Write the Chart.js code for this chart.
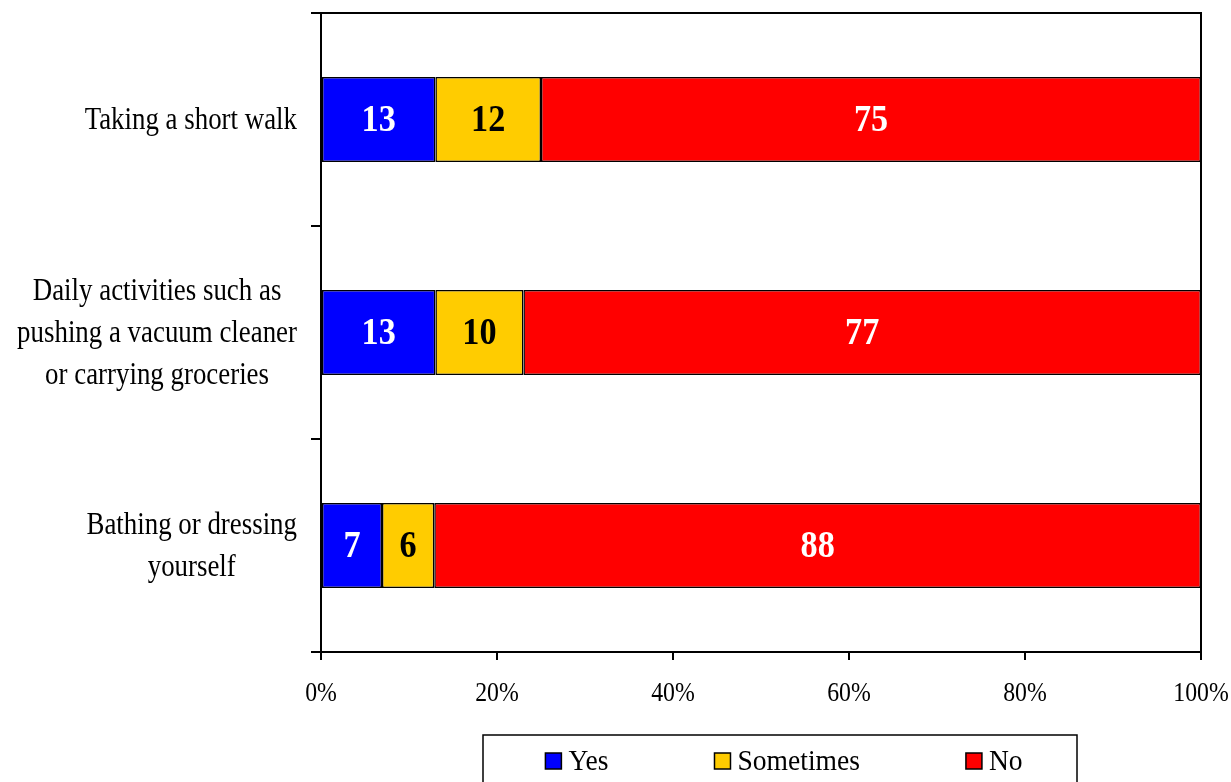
<!DOCTYPE html>
<html>
<head>
<meta charset="utf-8">
<script src="https://cdn.jsdelivr.net/npm/chart.js@4/dist/chart.umd.min.js"></script>
<style>
  html, body { margin: 0; padding: 0; background: #fff; overflow: hidden; }
  #wrap { width: 1231px; height: 782px; position: relative; }
</style>
</head>
<body>
<div id="wrap"><canvas id="chart"></canvas></div>
<script>
// categories (top to bottom)
const categories = [
    ['Taking a short walk'],
    ['Daily activities such as', 'pushing a vacuum cleaner', 'or carrying groceries'],
    ['Bathing or dressing', 'yourself']
];
const seriesNames = ['Yes', 'Sometimes', 'No'];
const yesValues = [13, 13, 7];
const sometimesValues = [12, 10, 6];
const noValues = [75, 77, 88];
const seriesColors = ['#0000FF', '#FFCC00', '#FF0000'];
const labelColors = ['#FFFFFF', '#000000', '#FFFFFF'];
const xTicks = [0, 20, 40, 60, 80, 100];

const FONT = '"Liberation Serif", "Times New Roman", serif';
const raw = [yesValues, sometimesValues, noValues];

// 100% stacked: normalize each category by its total
const totals = categories.map((c, i) => raw.reduce((s, arr) => s + arr[i], 0));
const datasets = raw.map((arr, k) => ({
    label: seriesNames[k],
    data: arr.map((v, i) => v / totals[i] * 100),
    rawValues: arr,
    backgroundColor: seriesColors[k],
    borderColor: '#000000',
    borderWidth: 1.5,
    borderSkipped: false,
    barPercentage: 0.4,
    categoryPercentage: 1.0
}));

// draw text squeezed horizontally (the original text is a bit condensed)
function squeezed(ctx, text, x, y, sx) {
    ctx.save();
    ctx.translate(x, y);
    ctx.scale(sx, 1);
    ctx.fillText(text, 0, 0);
    ctx.restore();
}

// plot-area frame (top and right sides)
const framePlugin = {
    id: 'frame',
    afterDraw(chart) {
        const { ctx, chartArea: a } = chart;
        ctx.save();
        ctx.strokeStyle = '#000';
        ctx.lineWidth = 2;
        ctx.beginPath();
        ctx.moveTo(a.left - 10, a.top);
        ctx.lineTo(a.right, a.top);
        ctx.lineTo(a.right, a.bottom);
        ctx.stroke();
        ctx.restore();
    }
};

// numbers inside the bars
const valueLabels = {
    id: 'valueLabels',
    afterDatasetsDraw(chart) {
        const ctx = chart.ctx;
        ctx.save();
        ctx.font = 'bold 38px ' + FONT;
        ctx.textAlign = 'center';
        ctx.textBaseline = 'middle';
        chart.data.datasets.forEach((ds, k) => {
            chart.getDatasetMeta(k).data.forEach((bar, i) => {
                ctx.fillStyle = labelColors[k];
                squeezed(ctx, String(ds.rawValues[i]), (bar.x + bar.base) / 2, bar.y + 2, 0.9);
            });
        });
        ctx.restore();
    }
};

// axis labels: category lines centred on each other with the block right-aligned,
// percent labels under the x ticks
const axisLabels = {
    id: 'axisLabels',
    afterDraw(chart) {
        const ctx = chart.ctx;
        const y = chart.scales.y;
        const x = chart.scales.x;
        const lineH = 42;
        const rightEdge = 297;
        const sx = 0.84;
        ctx.save();
        ctx.fillStyle = '#000';
        ctx.textAlign = 'center';
        ctx.textBaseline = 'middle';
        ctx.font = '32px ' + FONT;
        categories.forEach((lines, i) => {
            const w = Math.max(...lines.map(l => ctx.measureText(l).width)) * sx;
            const cx = rightEdge - w / 2;
            const cy = y.getPixelForValue(i);
            const start = cy - (lines.length - 1) * lineH / 2;
            lines.forEach((l, j) => squeezed(ctx, l, cx, start + j * lineH + 1, sx));
        });
        ctx.font = '28px ' + FONT;
        xTicks.forEach(v => {
            squeezed(ctx, v + '%', x.getPixelForValue(v), x.top + 42, 0.85);
        });
        ctx.restore();
    }
};

// boxed legend at the bottom
const boxLegend = {
    id: 'boxLegend',
    afterDraw(chart) {
        const ctx = chart.ctx;
        const boxL = 483, boxR = 1077, boxT = 735;
        const sq = 16, gapText = 7, gapItem = 106, sx = 0.95;
        ctx.save();
        ctx.font = '29px ' + FONT;
        ctx.strokeStyle = '#000';
        ctx.lineWidth = 1.5;
        ctx.strokeRect(boxL, boxT, boxR - boxL, 80);
        const widths = chart.data.datasets.map(ds => sq + gapText + ctx.measureText(ds.label).width * sx);
        const total = widths.reduce((a, b) => a + b, 0) + gapItem * (widths.length - 1);
        let x = (boxL + boxR) / 2 - total / 2 + 4;
        const cy = 761;
        ctx.textBaseline = 'middle';
        ctx.textAlign = 'left';
        chart.data.datasets.forEach((ds, k) => {
            ctx.fillStyle = ds.backgroundColor;
            ctx.fillRect(x, cy - sq / 2, sq, sq);
            ctx.lineWidth = 1.5;
            ctx.strokeRect(x, cy - sq / 2, sq, sq);
            ctx.fillStyle = '#000';
            squeezed(ctx, ds.label, x + sq + gapText, cy + 1, sx);
            x += widths[k] + gapItem;
        });
        ctx.restore();
    }
};

new Chart(document.getElementById('chart'), {
    type: 'bar',
    data: {
        labels: categories.map(l => l.join(' ')),
        datasets: datasets
    },
    options: {
        indexAxis: 'y',
        responsive: true,
        maintainAspectRatio: false,
        animation: false,
        layout: {
            padding: { top: 13, right: 30, left: 0, bottom: 0 }
        },
        plugins: {
            legend: { display: false },
            tooltip: { enabled: false }
        },
        scales: {
            x: {
                stacked: true,
                min: 0,
                max: 100,
                afterBuildTicks: (scale) => {
                    scale.ticks = xTicks.map(v => ({ value: v }));
                },
                afterFit: (scale) => {
                    scale.height = 130;
                    scale.paddingLeft = 0;
                    scale.paddingRight = 0;
                },
                border: { display: true, color: '#000', width: 2 },
                grid: {
                    drawOnChartArea: false,
                    color: '#000',
                    lineWidth: 2,
                    tickLength: 8
                },
                ticks: { display: false }
            },
            y: {
                stacked: true,
                afterFit: (scale) => { scale.width = 321; },
                border: { display: true, color: '#000', width: 2 },
                grid: {
                    drawOnChartArea: false,
                    offset: true,
                    color: '#000',
                    lineWidth: 2,
                    tickLength: 10
                },
                ticks: { display: false }
            }
        }
    },
    plugins: [framePlugin, valueLabels, axisLabels, boxLegend]
});
</script>
</body>
</html>
